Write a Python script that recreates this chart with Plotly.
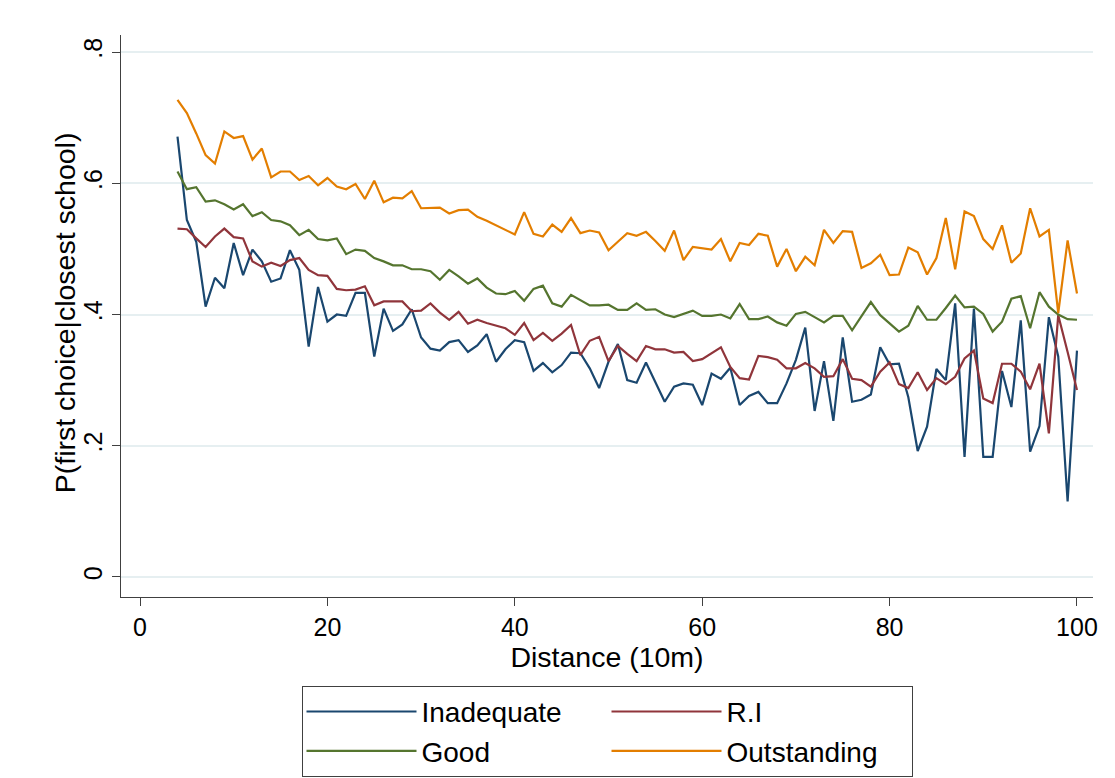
import plotly.graph_objects as go

distance = list(range(4, 101))

inadequate = [
    0.671, 0.544, 0.511, 0.412, 0.456, 0.440, 0.509, 0.460, 0.499, 0.481,   # 4-13
    0.450, 0.455, 0.498, 0.468, 0.351, 0.442, 0.389, 0.400, 0.398, 0.433,   # 14-23
    0.433, 0.336, 0.409, 0.375, 0.385, 0.408, 0.365, 0.348, 0.345, 0.358,   # 24-33
    0.361, 0.343, 0.353, 0.370, 0.328, 0.347, 0.361, 0.358, 0.314, 0.326,   # 34-43
    0.312, 0.323, 0.342, 0.341, 0.318, 0.288, 0.328, 0.355, 0.300, 0.296,   # 44-53
    0.327, 0.298, 0.267, 0.290, 0.295, 0.293, 0.262, 0.310, 0.302, 0.319,   # 54-63
    0.262, 0.276, 0.282, 0.265, 0.265, 0.295, 0.331, 0.380, 0.253, 0.329,   # 64-73
    0.238, 0.365, 0.267, 0.270, 0.278, 0.350, 0.324, 0.325, 0.274, 0.192,   # 74-83
    0.229, 0.317, 0.300, 0.417, 0.183, 0.409, 0.183, 0.183, 0.314, 0.259,   # 84-93
    0.391, 0.191, 0.230, 0.396, 0.336, 0.115, 0.345,                        # 94-100
]

ri = [
    0.531, 0.530, 0.516, 0.503, 0.519, 0.531, 0.518, 0.516, 0.481, 0.473,
    0.479, 0.474, 0.483, 0.486, 0.468, 0.460, 0.459, 0.439, 0.437, 0.438,
    0.443, 0.414, 0.420, 0.420, 0.420, 0.405, 0.406, 0.417, 0.403, 0.392,
    0.404, 0.386, 0.392, 0.387, 0.383, 0.379, 0.369, 0.387, 0.361, 0.372,
    0.360, 0.371, 0.384, 0.338, 0.360, 0.366, 0.329, 0.352, 0.340, 0.329,
    0.352, 0.347, 0.347, 0.342, 0.343, 0.329, 0.332, 0.341, 0.350, 0.320,
    0.303, 0.301, 0.337, 0.335, 0.331, 0.318, 0.318, 0.326, 0.318, 0.305,
    0.306, 0.332, 0.302, 0.300, 0.290, 0.313, 0.327, 0.294, 0.288, 0.312,
    0.285, 0.303, 0.294, 0.305, 0.333, 0.345, 0.272, 0.265, 0.325, 0.325,
    0.313, 0.286, 0.325, 0.219, 0.399, 0.343, 0.285,
]

good = [
    0.618, 0.591, 0.594, 0.572, 0.574, 0.568, 0.560, 0.568, 0.550, 0.556,
    0.544, 0.542, 0.536, 0.521, 0.529, 0.515, 0.513, 0.516, 0.492, 0.499,
    0.497, 0.486, 0.481, 0.475, 0.475, 0.469, 0.469, 0.466, 0.453, 0.468,
    0.458, 0.447, 0.455, 0.441, 0.432, 0.431, 0.436, 0.421, 0.439, 0.444,
    0.417, 0.412, 0.430, 0.422, 0.414, 0.414, 0.415, 0.407, 0.407, 0.417,
    0.407, 0.408, 0.400, 0.396, 0.401, 0.406, 0.398, 0.398, 0.400, 0.394,
    0.416, 0.393, 0.393, 0.397, 0.388, 0.383, 0.401, 0.404, 0.396, 0.388,
    0.398, 0.398, 0.376, 0.398, 0.419, 0.399, 0.387, 0.374, 0.383, 0.413,
    0.392, 0.392, 0.410, 0.429, 0.411, 0.412, 0.401, 0.374, 0.389, 0.424,
    0.428, 0.379, 0.434, 0.412, 0.400, 0.393, 0.392,
]

outstanding = [
    0.727, 0.707, 0.676, 0.643, 0.630, 0.679, 0.669, 0.672, 0.636, 0.653,
    0.609, 0.618, 0.618, 0.605, 0.611, 0.597, 0.608, 0.595, 0.591, 0.599,
    0.576, 0.604, 0.571, 0.578, 0.577, 0.588, 0.562, 0.562, 0.563, 0.554,
    0.559, 0.560, 0.549, 0.543, 0.536, 0.530, 0.522, 0.556, 0.523, 0.519,
    0.537, 0.526, 0.547, 0.524, 0.528, 0.525, 0.498, 0.511, 0.524, 0.520,
    0.526, 0.512, 0.497, 0.528, 0.483, 0.503, 0.501, 0.499, 0.515, 0.481,
    0.509, 0.506, 0.523, 0.520, 0.473, 0.500, 0.466, 0.488, 0.475, 0.529,
    0.509, 0.527, 0.526, 0.471, 0.478, 0.491, 0.460, 0.461, 0.502, 0.495,
    0.461, 0.486, 0.547, 0.469, 0.557, 0.550, 0.515, 0.500, 0.536, 0.479,
    0.493, 0.562, 0.519, 0.529, 0.402, 0.513, 0.432,
]

series_names = ["Inadequate", "R.I", "Good", "Outstanding"]
series_colors = ["#1a476f", "#90353b", "#55752f", "#e37e00"]
legend_columns = ["col1", "col2", "col1", "col2"]

y_tickvals = [0, 0.2, 0.4, 0.6, 0.8]
y_ticktext = ["0", ".2", ".4", ".6", ".8"]
x_tickvals = [0, 20, 40, 60, 80, 100]

FONT = "Liberation Sans, Arial, sans-serif"

fig = go.Figure()
for name, vals, col, grp in zip(series_names, [inadequate, ri, good, outstanding],
                                series_colors, legend_columns):
    fig.add_trace(go.Scatter(
        x=distance, y=vals, mode="lines", name=name, legendgroup=grp,
        line=dict(color=col, width=2.2),
    ))

fig.update_layout(
    width=1107, height=770,
    paper_bgcolor="white", plot_bgcolor="white",
    margin=dict(l=113, r=22, t=27, b=181, autoexpand=False),
    font=dict(family=FONT, size=25, color="#000"),
    showlegend=True,
    legend=dict(
        orientation="h",
        x=0.5, xanchor="center",
        y=-0.158, yanchor="top",
        bordercolor="#404040", borderwidth=1,
        bgcolor="white",
        font=dict(family=FONT, size=28, color="#000"),
        itemwidth=110,
        entrywidth=180,
        traceorder="grouped",
        tracegroupgap=0,
    ),
    xaxis=dict(
        range=[-2.03, 101.71],
        tickmode="array", tickvals=x_tickvals,
        showgrid=False, zeroline=False,
        showline=True, linecolor="#404040", linewidth=1,
        ticks="outside", ticklen=8, tickcolor="#404040",
        tickfont=dict(family=FONT, size=25, color="#000"),
        title=dict(text="Distance (10m)", font=dict(family=FONT, size=28.5, color="#000"), standoff=2),
    ),
    yaxis=dict(
        range=[-0.0305, 0.826],
        tickmode="array", tickvals=y_tickvals, ticktext=y_ticktext,
        tickangle=-90,
        showgrid=True, gridcolor="#E6EFF1", gridwidth=2,
        zeroline=False,
        showline=True, linecolor="#404040", linewidth=1,
        ticks="outside", ticklen=8, tickcolor="#404040",
        tickfont=dict(family=FONT, size=25, color="#000"),
    ),
    annotations=[dict(
        text="P(first choice|closest school)", textangle=-90,
        xref="paper", yref="paper", x=-0.0576, y=0.505,
        xanchor="center", yanchor="middle", showarrow=False,
        font=dict(family=FONT, size=28.5, color="#000"),
    )],
)

fig.write_html("out.html")
